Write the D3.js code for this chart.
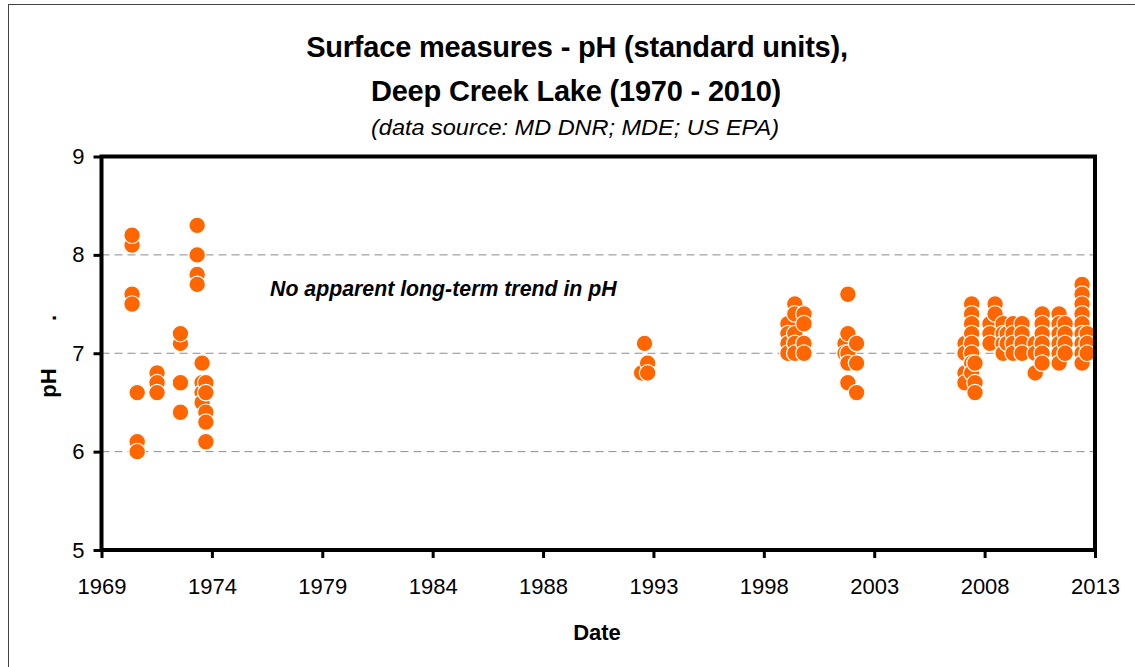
<!DOCTYPE html>
<html>
<head>
<meta charset="utf-8">
<script src="https://cdn.jsdelivr.net/npm/d3@7"></script>
<style>
  html, body { margin: 0; padding: 0; background: #fff; }
  svg { display: block; font-family: "Liberation Sans", Arial, sans-serif; }
</style>
</head>
<body>
<svg id="chart" width="1135" height="667"></svg>
<script>
// Date axis: ten evenly spaced date ticks, labelled by year
const yearTickLabels = ["1969", "1974", "1979", "1984", "1988", "1993", "1998", "2003", "2008", "2013"];
const axisStartYear = 1969.17;
const axisStepYears = 4.95;

// pH axis
const phTicks = [5, 6, 7, 8, 9];
const phGridLevels = [6, 7, 8];

// Sampling dates (decimal years) and the surface pH readings taken on each
const sampleDates = [
  1970.54, 1970.77, 1971.66, 1972.71, 1973.46, 1973.68, 1973.85,
  1993.39, 1993.52, 1993.66,
  1999.95, 2000.26, 2000.67,
  2002.51, 2002.64, 2003.03,
  2007.89, 2008.19, 2008.34, 2009.01, 2009.24, 2009.60, 2009.78,
  2010.05, 2010.45, 2011.04, 2011.35, 2012.11, 2012.38, 2013.14, 2013.37
];
const samplePH = [
  [8.1, 8.2, 7.6, 7.5],
  [6.6, 6.1, 6.0],
  [6.8, 6.7, 6.6],
  [7.1, 7.2, 6.7, 6.4],
  [8.3, 8.0, 7.8, 7.7],
  [6.9, 6.7, 6.6, 6.5],
  [6.7, 6.6, 6.4, 6.3, 6.1],
  [6.8],
  [7.1],
  [6.9, 6.8],
  [7.3, 7.2, 7.1, 7.0],
  [7.5, 7.4, 7.2, 7.1, 7.0],
  [7.4, 7.3, 7.1, 7.0],
  [7.1, 7.0],
  [7.6, 7.2, 7.0, 6.9, 6.7],
  [7.1, 6.9, 6.6],
  [7.1, 7.0, 6.8, 6.7],
  [7.5, 7.4, 7.3, 7.2, 7.1, 7.0, 6.9, 6.8],
  [6.9, 6.7, 6.6],
  [7.3, 7.2, 7.1],
  [7.5, 7.4],
  [7.3, 7.2, 7.1, 7.0],
  [7.2, 7.1],
  [7.3, 7.2, 7.1, 7.0],
  [7.3, 7.2, 7.1, 7.0],
  [7.1, 7.0, 6.8],
  [7.4, 7.3, 7.2, 7.1, 7.0, 6.9],
  [7.4, 7.3, 7.2, 7.1, 7.0, 6.9],
  [7.3, 7.2, 7.1, 7.0],
  [7.7, 7.6, 7.5, 7.4, 7.3, 7.2, 7.1, 7.0, 6.9],
  [7.2, 7.1, 7.0]
];

const titleLines = ["Surface measures - pH (standard units),", "Deep Creek Lake (1970 - 2010)"];
const subtitle = "(data source: MD DNR; MDE; US EPA)";
const annotation = "No apparent long-term trend in pH";

const svg = d3.select("#chart");
const plot = { left: 101.5, right: 1095, top: 156.5, bottom: 550 };

const tickYears = yearTickLabels.map((_, i) => axisStartYear + i * axisStepYears);
const x = d3.scaleLinear()
  .domain([tickYears[0], tickYears[tickYears.length - 1]])
  .range([plot.left, plot.right]);
const y = d3.scaleLinear().domain([5, 9]).range([plot.bottom, plot.top]);

// Outer chart frame
svg.append("rect")
  .attr("x", 8.5).attr("y", 4.5)
  .attr("width", 1200).attr("height", 700)
  .attr("fill", "#fff").attr("stroke", "#444").attr("stroke-width", 1);

// Titles
svg.append("text")
  .attr("x", 577).attr("y", 57)
  .attr("text-anchor", "middle")
  .attr("font-size", 29).attr("font-weight", "bold")
  .attr("letter-spacing", -0.2)
  .text(titleLines[0]);
svg.append("text")
  .attr("x", 576).attr("y", 101)
  .attr("text-anchor", "middle")
  .attr("font-size", 29).attr("font-weight", "bold")
  .attr("letter-spacing", -0.2)
  .text(titleLines[1]);
svg.append("text")
  .attr("x", 575).attr("y", 135)
  .attr("text-anchor", "middle")
  .attr("font-size", 22).attr("font-style", "italic")
  .attr("textLength", 408).attr("lengthAdjust", "spacingAndGlyphs")
  .text(subtitle);

// Horizontal dashed gridlines
svg.append("g")
  .selectAll("line")
  .data(phGridLevels)
  .join("line")
  .attr("x1", plot.left).attr("x2", plot.right)
  .attr("y1", d => y(d)).attr("y2", d => y(d))
  .attr("stroke", "#8c8c8c").attr("stroke-width", 1)
  .attr("stroke-dasharray", "8,5");

// Annotation
svg.append("text")
  .attr("x", 270).attr("y", 296)
  .attr("font-size", 21.3).attr("font-weight", "bold").attr("font-style", "italic")
  .text(annotation);

// Points
const points = sampleDates.flatMap((date, i) => samplePH[i].map(v => ({ date, v })));
svg.append("g")
  .selectAll("circle")
  .data(points)
  .join("circle")
  .attr("cx", d => x(d.date))
  .attr("cy", d => y(d.v))
  .attr("r", 8.3)
  .attr("fill", "#ff6600")
  .attr("stroke", "#fff")
  .attr("stroke-width", 1.2);

// Axes
const xAxis = d3.axisBottom(x)
  .tickValues(tickYears)
  .tickFormat((d, i) => yearTickLabels[i])
  .tickSize(8).tickPadding(20);
const gx = svg.append("g")
  .attr("transform", `translate(0,${plot.bottom})`)
  .call(xAxis);
gx.select(".domain").remove();
gx.selectAll(".tick line").attr("stroke", "#000").attr("stroke-width", 3);
gx.selectAll(".tick text")
  .attr("font-family", "'Liberation Sans', Arial, sans-serif")
  .attr("font-size", 22).attr("fill", "#000");

const yAxis = d3.axisLeft(y)
  .tickValues(phTicks)
  .tickFormat(d3.format("d"))
  .tickSize(8).tickPadding(9);
const gy = svg.append("g")
  .attr("transform", `translate(${plot.left},0)`)
  .call(yAxis);
gy.select(".domain").remove();
gy.selectAll(".tick line").attr("stroke", "#000").attr("stroke-width", 3);
gy.selectAll(".tick text")
  .attr("font-family", "'Liberation Sans', Arial, sans-serif")
  .attr("font-size", 22).attr("fill", "#000");

// Plot area frame
svg.append("rect")
  .attr("x", plot.left).attr("y", plot.top)
  .attr("width", plot.right - plot.left).attr("height", plot.bottom - plot.top)
  .attr("fill", "none").attr("stroke", "#000").attr("stroke-width", 4);

// Axis titles
svg.append("text")
  .attr("x", 597).attr("y", 640)
  .attr("text-anchor", "middle")
  .attr("font-size", 22).attr("font-weight", "bold")
  .text("Date");
svg.append("text")
  .attr("transform", "translate(56,383) rotate(-90)")
  .attr("text-anchor", "middle")
  .attr("font-size", 22).attr("font-weight", "bold")
  .text("pH");
svg.append("text")
  .attr("transform", "translate(56,318) rotate(-90)")
  .attr("text-anchor", "middle")
  .attr("font-size", 22).attr("font-weight", "bold")
  .text(".");
</script>
</body>
</html>
